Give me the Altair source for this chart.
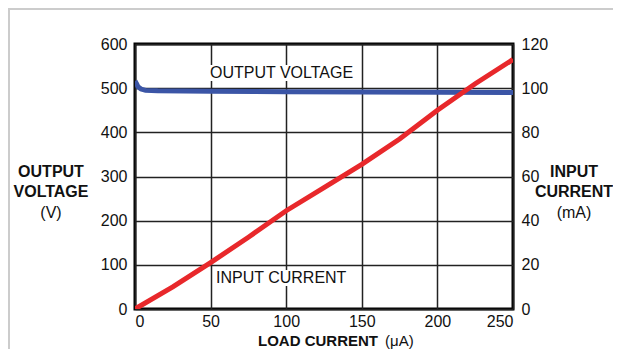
import altair as alt
import pandas as pd

# Data
load_v = [0, 1, 2, 4, 7, 15, 50, 100, 150, 200, 250]
volt = [516, 510, 503, 498, 495, 494, 493, 492, 491.5, 491, 490]

load_i = [0, 25, 50, 75, 100, 125, 150, 175, 200, 225, 250]
curr = [0, 10, 21, 32.5, 44.5, 55, 65.5, 77, 90, 102, 113]

x_ticks = [0, 50, 100, 150, 200, 250]
v_ticks = [0, 100, 200, 300, 400, 500, 600]
i_ticks = [0, 20, 40, 60, 80, 100, 120]

dv = pd.DataFrame({"load": load_v, "volt": volt})
di = pd.DataFrame({"load": load_i, "curr": curr})

FONT = "Liberation Sans"
one = alt.Data(values=[{"a": 1}])

xenc = alt.X("load:Q", scale=alt.Scale(domain=[0, 250], nice=False),
             axis=alt.Axis(values=x_ticks, title=None, grid=True, ticks=False,
                           labelPadding=4, domain=False))

blue = alt.Chart(dv).mark_line(color="#3b55a6", strokeWidth=5, clip=True).encode(
    x=xenc,
    y=alt.Y("volt:Q", scale=alt.Scale(domain=[0, 600], nice=False),
            axis=alt.Axis(values=v_ticks, title=None, grid=True, ticks=False,
                          labelPadding=8, orient="left", domain=False)),
)

red = alt.Chart(di).mark_line(color="#e8282b", strokeWidth=5, clip=True).encode(
    x=alt.X("load:Q", scale=alt.Scale(domain=[0, 250], nice=False)),
    y=alt.Y("curr:Q", scale=alt.Scale(domain=[0, 120], nice=False),
            axis=alt.Axis(values=i_ticks, title=None, grid=False, ticks=False,
                          labelPadding=8, orient="right", domain=False)),
)


def txt(s, x, y, bold=False, align="center", size=16):
    return alt.Chart(one).mark_text(
        font=FONT, fontSize=size, fontWeight="bold" if bold else "normal",
        color="#111", align=align, baseline="middle"
    ).encode(x=alt.value(x), y=alt.value(y), text=alt.value(s))


def bg(x, x2, y, y2):
    return alt.Chart(one).mark_rect(color="white").encode(
        x=alt.value(x), x2=alt.value(x2), y=alt.value(y), y2=alt.value(y2))


texts = [
    bg(73, 226, 21, 37),
    bg(79, 214, 226, 242),
    txt("OUTPUT VOLTAGE", 75, 29, align="left"),
    txt("INPUT CURRENT", 81, 234, align="left"),
    txt("OUTPUT", -84, 128, True),
    txt("VOLTAGE", -84, 148, True),
    txt("(V)", -84, 169),
    txt("INPUT", 439, 128, True),
    txt("CURRENT", 439, 148, True),
    txt("(mA)", 439, 169),
    txt("LOAD CURRENT", 123, 297, True, "left", 15),
    txt("(\u03bcA)", 250, 297, False, "left", 15),
]

frame_v = alt.Chart(one).mark_rule(color="#cccccc", strokeWidth=2).encode(
    x=alt.value(-126), y=alt.value(-35), y2=alt.value(330))
frame_h = alt.Chart(one).mark_rule(color="#cccccc", strokeWidth=2).encode(
    x=alt.value(-127), x2=alt.value(600), y=alt.value(-35))

left_layer = alt.layer(blue, frame_v, frame_h, *texts)

chart = alt.layer(left_layer, red).resolve_scale(y="independent").properties(
    width=378, height=265,
    autosize=alt.AutoSizeParams(type="none"),
    padding={"left": 127, "top": 36, "right": 100, "bottom": 40},
).configure_view(
    stroke="#000", strokeWidth=3
).configure_axis(
    labelFont=FONT, labelFontSize=16, labelColor="#111",
    gridColor="#222", gridWidth=1.5, gridOpacity=1,
)

chart.save("out.html", embed_options={"renderer": "svg", "actions": False})
